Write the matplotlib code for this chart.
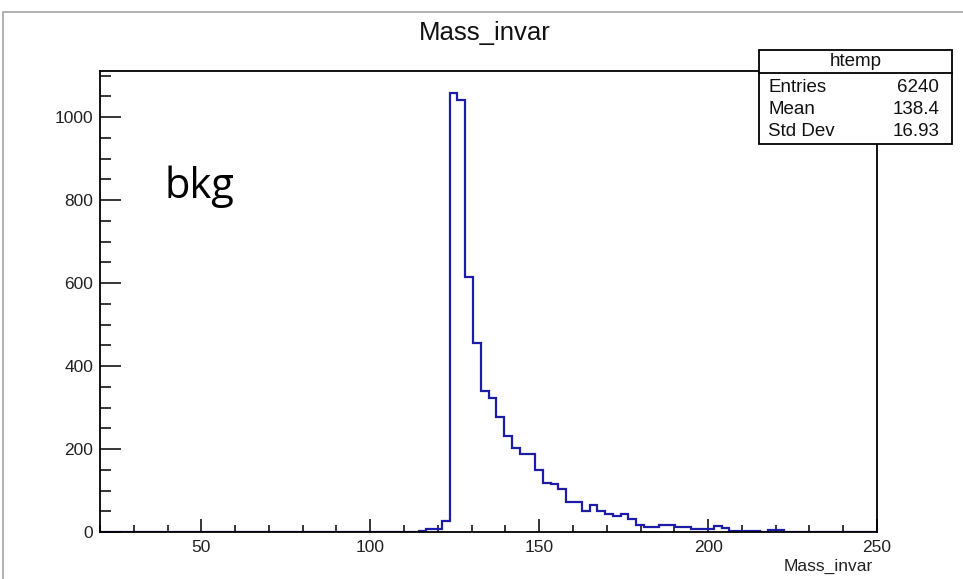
import matplotlib
matplotlib.use("Agg")
import matplotlib.pyplot as plt
from matplotlib.patches import Rectangle
from matplotlib.ticker import MultipleLocator
import numpy as np

# binning of htemp (ROOT default: 100 bins over the drawn range)
x_lo, x_hi, n_bins = 20.0, 250.0, 100

# counts per bin (bins 0..99)
counts = ([0] * 41 +
          [3, 8, 8, 27, 1059, 1041, 615, 455, 341, 322,
           278, 232, 202, 188, 188, 149, 119, 116, 103, 72,
           72, 50, 64, 50, 43, 39, 43, 32, 17, 12,
           12, 16, 16, 12, 12, 8, 7, 7, 15, 10,
           3, 3, 3, 3, 0, 4, 4] +
          [0] * 12)

title = "Mass_invar"
x_label = "Mass_invar"
stats_name = "htemp"
stats_rows = [("Entries", "6240"), ("Mean", "138.4"), ("Std Dev", "16.93")]

W, H = 963, 579
plt.rcParams['font.family'] = ['Liberation Sans', 'DejaVu Sans']

fig = plt.figure(figsize=(W / 100, H / 100), dpi=100)


def fx(px):
    return px / W


def fy(py):
    return 1 - py / H


# canvas border
fig.patches.append(Rectangle((fx(3), fy(H + 5)), fx(W + 5) - fx(3), fy(12) - fy(H + 5),
                             transform=fig.transFigure, fill=False,
                             edgecolor='#a6a6a6', linewidth=1.2))

ax = fig.add_axes([fx(100), fy(532), fx(877) - fx(100), fy(71) - fy(532)])

edges = np.linspace(x_lo, x_hi, n_bins + 1)
ax.stairs(counts, edges, baseline=0, color='#1c1ca8', linewidth=1.6, zorder=2)

ax.set_xlim(x_lo, x_hi)
ax.set_ylim(0, 1111)
ax.xaxis.set_major_locator(MultipleLocator(50))
ax.xaxis.set_minor_locator(MultipleLocator(10))
ax.yaxis.set_major_locator(MultipleLocator(200))
ax.yaxis.set_minor_locator(MultipleLocator(50))

ax.tick_params(axis='both', which='both', direction='in', color='black',
               width=1.1, labelsize=12.5, labelcolor='#222222')
ax.tick_params(axis='x', which='major', length=9.5, pad=6)
ax.tick_params(axis='x', which='minor', length=5)
ax.tick_params(axis='y', which='major', length=15, pad=5)
ax.tick_params(axis='y', which='minor', length=8)
for s in ax.spines.values():
    s.set_linewidth(1.3)
    s.set_zorder(3)

fig.text(fx(485), fy(33), title, ha='center', va='center', fontsize=18.5, color='#111111')
fig.text(fx(873), fy(566), x_label, ha='right', va='center', fontsize=12.5, color='#222222')
fig.text(fx(165), fy(198), "bkg", ha='left', va='baseline', fontsize=30,
         family=['Open Sans', 'DejaVu Sans'], color='black')

# stats box
bx0, bx1, by0, by1 = 759, 952, 50, 144
fig.patches.append(Rectangle((fx(bx0), fy(by1)), fx(bx1) - fx(bx0), fy(by0) - fy(by1),
                             transform=fig.transFigure, facecolor='white',
                             edgecolor='black', linewidth=1.3, zorder=5))
fig.lines.append(plt.Line2D([fx(bx0), fx(bx1)], [fy(72.5), fy(72.5)],
                            transform=fig.transFigure, color='black', linewidth=1.3, zorder=6))
fig.text(fx((bx0 + bx1) / 2), fy(62), stats_name, ha='center', va='center',
         fontsize=13.5, color='#111111', zorder=7)
for i, (name, val) in enumerate(stats_rows):
    yy = fy(88 + i * 21.5)
    fig.text(fx(768), yy, name, ha='left', va='center', fontsize=13.5, color='#111111', zorder=7)
    fig.text(fx(939), yy, val, ha='right', va='center', fontsize=13.5, color='#111111', zorder=7)

fig.savefig("out.png", dpi=100)
